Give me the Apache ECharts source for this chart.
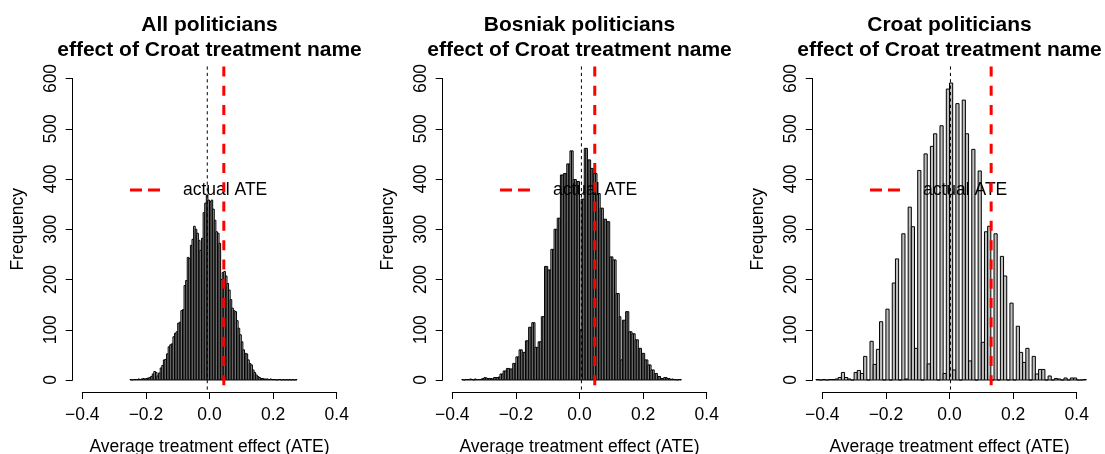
<!DOCTYPE html>
<html>
<head>
<meta charset="utf-8">
<script src="https://cdn.jsdelivr.net/npm/echarts@6/dist/echarts.min.js"></script>
<style>
  html, body { margin: 0; padding: 0; background: #fff; }
  #chart { width: 1105px; height: 454px; }
</style>
</head>
<body>
<div id="chart"></div>
<script>
  // panel titles (two lines each)
  var panelTitles = [
    ['All politicians', 'effect of Croat treatment name'],
    ['Bosniak politicians', 'effect of Croat treatment name'],
    ['Croat politicians', 'effect of Croat treatment name']
  ];

  // histogram bins: first lower edge + width, then the counts
  var binStart = [-0.25, -0.37, -0.42];
  var binWidth = [0.005, 0.005, 0.01];

  var allCounts = [
    1, 0, 1, 1, 1, 2, 1, 2, 3, 2,
    3, 4, 5, 7, 12, 17, 15, 8, 14, 24,
    29, 40, 41, 52, 66, 70, 72, 86, 93, 96,
    113, 115, 138, 140, 188, 198, 244, 242, 268, 280,
    306, 300, 292, 278, 258, 282, 333, 352, 368, 358,
    355, 358, 340, 318, 295, 292, 272, 200, 214, 216,
    207, 192, 179, 160, 143, 138, 136, 118, 103, 90,
    76, 60, 53, 52, 40, 33, 30, 20, 15, 10,
    7, 5, 3, 3, 2, 2, 2, 1, 2, 1,
    1, 1, 0, 1, 1, 0, 1, 0, 1, 0,
    1, 0, 1, 0, 1
  ];

  var bosniakCounts = [
    1, 0, 1, 1, 1, 2, 1, 0, 2, 1, 1, 1, 2, 3, 5, 4, 3, 3, 3, 2,
    5, 5, 5, 6, 12, 12, 18, 18, 23, 23, 22, 22, 33, 33, 46, 46, 60, 60, 55, 55,
    78, 78, 105, 105, 114, 114, 65, 65, 76, 76, 126, 126, 226, 226, 219, 219, 260, 260, 300, 300,
    322, 322, 408, 408, 411, 411, 430, 430, 456, 456, 399, 399, 395, 395,
    100, 360, 360, 461, 461, 438, 438, 421, 421, 411, 411, 371, 371, 342, 342, 320, 320, 315, 315, 245,
    245, 239, 239, 172, 172, 126, 40, 119, 119, 136, 136, 96, 96, 92, 92, 80, 80, 63, 63, 53,
    53, 40, 40, 30, 30, 20, 20, 13, 13, 7, 7, 3, 3, 5, 5, 3, 3, 1, 2, 1,
    1, 0, 1, 1
  ];

  var croatCounts = [
    1, 0, 1, 0, 1, 1, 2, 5, 15, 5,
    2, 0, 15, 19, 13, 47, 0, 77, 31, 61,
    116, 0, 141, 0, 193, 241, 0, 291, 2, 344,
    305, 63, 417, 0, 450, 32, 465, 490, 0, 506,
    13, 579, 591, 20, 550, 0, 557, 490, 38, 459,
    0, 416, 75, 295, 306, 0, 291, 0, 246, 207,
    0, 153, 0, 107, 55, 35, 63, 0, 47, 12,
    21, 21, 0, 8, 0, 3, 2, 0, 4, 0,
    4, 4, 0, 0, 1
  ];

  var panelCounts = [allCounts, bosniakCounts, croatCounts];

  // vertical reference lines
  var nullCentre = [-0.007, 0.006, 0.003];
  var actualATE = [0.045, 0.048, 0.131];

  var xTicks = [-0.4, -0.2, 0, 0.2, 0.4];
  var yTicks = [0, 100, 200, 300, 400, 500, 600];

  var font = "'Liberation Sans', Arial, Helvetica, sans-serif";
  var panelStep = 370;

  function binsFor(i) {
    var out = [];
    panelCounts[i].forEach(function (c, j) {
      var lo = binStart[i] + j * binWidth[i];
      out.push([lo, lo + binWidth[i], c]);
    });
    return out;
  }

  function renderBar(params, api) {
    var top = api.coord([api.value(0), api.value(2)]);
    var base = api.coord([api.value(1), 0]);
    return {
      type: 'rect',
      shape: { x: top[0], y: top[1], width: base[0] - top[0], height: base[1] - top[1] },
      style: { fill: '#bebebe', stroke: '#000', lineWidth: 1 }
    };
  }

  // lines run over the whole plot frame, like abline()
  function lineRenderer(color, width, dash) {
    return function (params, api) {
      var x = api.value(0);
      var p1 = api.coord([x, yTicks[yTicks.length - 1] * 1.04]);
      var p2 = api.coord([x, -yTicks[yTicks.length - 1] * 0.04]);
      return {
        type: 'line',
        shape: { x1: p1[0], y1: p1[1], x2: p2[0], y2: p2[1] },
        style: { stroke: color, lineWidth: width, lineDash: dash }
      };
    };
  }

  function fmtTick(v) {
    var s = Math.abs(v).toFixed(1);
    return v < -1e-9 ? '\u2212' + s : s;
  }

  var grids = [], xAxes = [], yAxes = [], titles = [], legends = [], series = [];

  for (var i = 0; i < 3; i++) {
    grids.push({
      left: 82.3 + panelStep * i, top: 78.5, width: 254.4, height: 301.5,
      containLabel: false, outerBoundsMode: 'none'
    });
    xAxes.push({
      gridIndex: i, type: 'value',
      min: xTicks[0], max: xTicks[xTicks.length - 1], interval: 0.2,
      position: 'bottom', offset: 12,
      axisLine: { show: true, onZero: false, lineStyle: { color: '#000', width: 1 } },
      axisTick: { show: true, length: 7, lineStyle: { color: '#000', width: 1 } },
      axisLabel: { show: true, margin: 14, fontSize: 17.5, color: '#000', fontFamily: font,
                   formatter: fmtTick, showMinLabel: true, showMaxLabel: true },
      splitLine: { show: false },
      name: 'Average treatment effect (ATE)', nameLocation: 'middle', nameGap: 46,
      nameTextStyle: { fontSize: 17.5, color: '#000', fontFamily: font }
    });
    yAxes.push({
      gridIndex: i, type: 'value',
      min: yTicks[0], max: yTicks[yTicks.length - 1], interval: 100,
      position: 'left', offset: 9.6,
      axisLine: { show: true, onZero: false, lineStyle: { color: '#000', width: 1 } },
      axisTick: { show: true, length: 7, lineStyle: { color: '#000', width: 1 } },
      axisLabel: { show: true, rotate: 90, margin: 13, fontSize: 17.5, color: '#000', fontFamily: font,
                   showMinLabel: true, showMaxLabel: true },
      splitLine: { show: false },
      name: 'Frequency', nameLocation: 'middle', nameGap: 46, nameRotate: 90,
      nameTextStyle: { fontSize: 17.5, color: '#000', fontFamily: font }
    });
    titles.push({
      text: panelTitles[i][0] + '\n' + panelTitles[i][1],
      left: 209.5 + panelStep * i, top: 12.5, textAlign: 'center', padding: 0,
      textStyle: { fontSize: 21, fontWeight: 'bold', lineHeight: 25, color: '#000', fontFamily: font }
    });
    legends.push({
      data: ['actual ATE'], left: 130 + panelStep * i, top: 180, padding: 0,
      itemWidth: 30, itemHeight: 3, icon: 'path://M0,0H12V3H0Z M18,0H30V3H18Z',
      selectedMode: false,
      textStyle: { fontSize: 17.5, color: '#000', fontFamily: font, padding: [0, 0, 0, 18], lineHeight: 20 }
    });
    series.push({
      type: 'custom', name: 'hist' + i, xAxisIndex: i, yAxisIndex: i,
      data: binsFor(i), encode: { x: [0, 1], y: 2 }, renderItem: renderBar, clip: false, z: 2
    });
    series.push({
      type: 'custom', name: 'centre' + i, xAxisIndex: i, yAxisIndex: i,
      data: [[nullCentre[i], 0]], encode: { x: 0, y: 1 },
      renderItem: lineRenderer('#000', 1, [3.2, 3.2]), clip: false, z: 3
    });
    series.push({
      type: 'custom', name: 'actual ATE', xAxisIndex: i, yAxisIndex: i,
      itemStyle: { color: '#ff0000' },
      data: [[actualATE[i], 0]], encode: { x: 0, y: 1 },
      renderItem: lineRenderer('#ff0000', 3, [10, 9.3]), clip: false, z: 5
    });
  }

  var chart = echarts.init(document.getElementById('chart'), null, { renderer: 'canvas' });
  chart.setOption({
    animation: false,
    backgroundColor: '#fff',
    title: titles,
    legend: legends,
    grid: grids,
    xAxis: xAxes,
    yAxis: yAxes,
    series: series
  });
</script>
</body>
</html>
